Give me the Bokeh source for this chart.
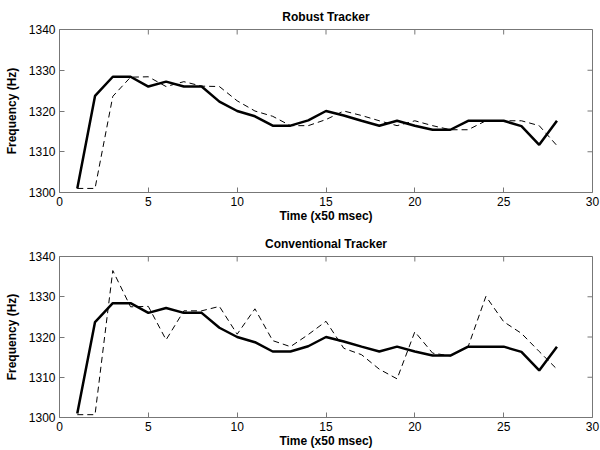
import math
from bokeh.plotting import figure
from bokeh.layouts import column
from bokeh.models import FixedTicker, Range1d
from bokeh.embed import file_html
from bokeh.resources import INLINE

# ---- data ----
time_steps = list(range(1, 29))

robust_estimate = [1301.0, 1323.7, 1328.4, 1328.4, 1326.0, 1327.2, 1326.0, 1326.0,
                   1322.3, 1320.0, 1318.7, 1316.4, 1316.4, 1317.7, 1320.0, 1318.9,
                   1317.6, 1316.4, 1317.6, 1316.4, 1315.4, 1315.4, 1317.6, 1317.6,
                   1317.6, 1316.3, 1311.7, 1317.6]

robust_measured = [1301.0, 1301.0, 1323.6, 1328.3, 1328.4, 1326.0, 1327.2, 1326.1,
                   1326.0, 1322.5, 1320.0, 1318.7, 1316.4, 1316.4, 1317.9, 1320.0,
                   1318.9, 1317.6, 1316.4, 1317.6, 1316.4, 1315.4, 1315.4, 1317.6,
                   1317.6, 1317.6, 1316.4, 1311.5]

conv_estimate = [1301.0, 1323.7, 1328.4, 1328.4, 1326.0, 1327.2, 1326.0, 1326.0,
                 1322.3, 1320.0, 1318.7, 1316.4, 1316.4, 1317.7, 1320.0, 1318.9,
                 1317.6, 1316.4, 1317.6, 1316.4, 1315.4, 1315.4, 1317.6, 1317.6,
                 1317.6, 1316.3, 1311.7, 1317.6]

conv_measured = [1300.7, 1300.7, 1336.5, 1327.5, 1327.6, 1319.3, 1326.5, 1326.5,
                 1327.6, 1320.7, 1327.0, 1319.1, 1317.6, 1320.6, 1323.9, 1317.2,
                 1315.6, 1312.0, 1309.6, 1321.3, 1316.0, 1315.3, 1317.6, 1330.1,
                 1323.8, 1320.9, 1316.4, 1312.0]

x_ticks = [0, 5, 10, 15, 20, 25, 30]
y_ticks = [1300, 1310, 1320, 1330, 1340]
x_min, x_max = 0, 30
y_min, y_max = 1300, 1340

FONT = "Liberation Sans"
FRAME = "#777777"


def style_axis(ax, ticks):
    ax.ticker = FixedTicker(ticks=ticks)
    ax.axis_line_color = None
    ax.major_tick_in = 5
    ax.major_tick_out = 0
    ax.major_tick_line_color = FRAME
    ax.minor_tick_line_color = None
    ax.major_label_text_font = FONT
    ax.major_label_text_color = "black"
    ax.major_label_text_font_size = "12px"
    ax.major_label_standoff = 4
    ax.axis_label_text_font = FONT
    ax.axis_label_text_font_size = "12px"
    ax.axis_label_text_font_style = "bold"
    ax.axis_label_text_color = "black"


def panel(title, est, meas, height, top, bottom):
    p = figure(width=600, height=height,
               x_range=Range1d(x_min, x_max), y_range=Range1d(y_min, y_max),
               output_backend="svg", toolbar_location=None,
               min_border_left=59, min_border_right=8,
               min_border_top=top, min_border_bottom=bottom)
    p.grid.visible = False
    p.outline_line_color = FRAME
    p.outline_line_width = 1
    p.background_fill_color = "white"
    p.border_fill_color = "white"

    p.title.text = title
    p.title.align = "center"
    p.title.text_font = FONT
    p.title.text_font_size = "12px"
    p.title.text_font_style = "bold"
    p.title.text_color = "black"
    p.title.standoff = 12

    style_axis(p.xaxis[0], x_ticks)
    style_axis(p.yaxis[0], y_ticks)
    p.xaxis[0].axis_label = "Time (x50 msec)"
    p.xaxis[0].axis_label_standoff = 0
    p.yaxis[0].axis_label = "Frequency (Hz)"
    p.yaxis[0].axis_label_standoff = 7

    # inward ticks on the top and right edges of the box
    p.ray(x=x_ticks, y=[y_max] * len(x_ticks), length=5, length_units="screen",
          angle=-math.pi / 2, line_color=FRAME, line_width=1)
    p.ray(x=[x_max] * len(y_ticks), y=y_ticks, length=5, length_units="screen",
          angle=math.pi, line_color=FRAME, line_width=1)

    p.line(time_steps, meas, line_color="black", line_width=1, line_dash="6 4")
    p.line(time_steps, est, line_color="black", line_width=2.5)
    return p


p1 = panel("Robust Tracker", robust_estimate, robust_measured, 228, 29, 36)
p2 = panel("Conventional Tracker", conv_estimate, conv_measured, 222, 27, 32)

layout = column(p1, p2, spacing=0)
open("out.html", "w").write(file_html(layout, INLINE))
